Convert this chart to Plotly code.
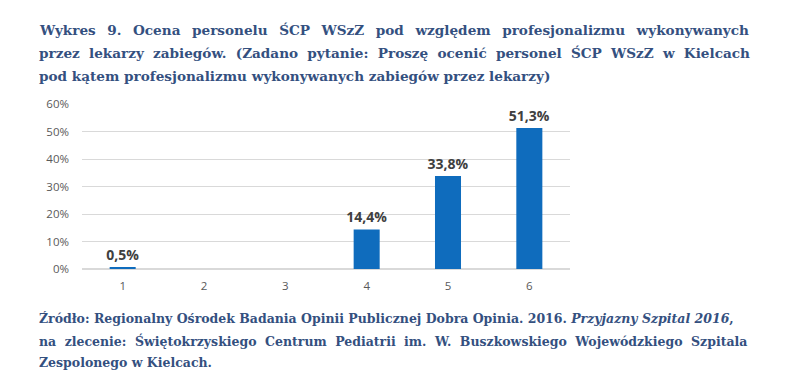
import plotly.graph_objects as go

categories = ["1", "2", "3", "4", "5", "6"]
values = [0.5, 0, 0, 14.4, 33.8, 51.3]
labels = ["0,5%", "", "", "14,4%", "33,8%", "51,3%"]
tick_vals = [0, 10, 20, 30, 40, 50, 60]
tick_text = ["0%", "10%", "20%", "30%", "40%", "50%", "60%"]

title_lines = [
    "Wykres 9. Ocena personelu ŚCP WSzZ pod względem profesjonalizmu wykonywanych",
    "przez lekarzy zabiegów. (Zadano pytanie: Proszę ocenić personel ŚCP WSzZ w Kielcach",
    "pod kątem profesjonalizmu wykonywanych zabiegów przez lekarzy)",
]
footer_lines = [
    "Źródło: Regionalny Ośrodek Badania Opinii Publicznej Dobra Opinia. 2016. <i>Przyjazny Szpital 2016</i>,",
    "na zlecenie: Świętokrzyskiego Centrum Pediatrii im. W. Buszkowskiego Wojewódzkiego Szpitala",
    "Zespolonego w Kielcach.",
]

text_color = "#34507F"
serif = "DejaVu Serif"

# extra space inserted per word gap to mimic justified paragraphs
title_pad = ["\u2002", "\u2004", ""]
footer_pad = ["", "\u2004", ""]


def pad(line, extra):
    return line.replace(" ", " " + extra) if extra else line


# page body has an 8px offset
OFF = 8
L, R, T, B = 82 - OFF, 804 - 570 + OFF, 104 - OFF, 390 - 269 + OFF

fig = go.Figure()
fig.add_trace(go.Bar(
    x=categories, y=values, text=labels,
    textposition="outside", cliponaxis=False, constraintext="none",
    textfont=dict(family="Open Sans", size=14, color="#404040", weight="bold"),
    marker=dict(color="#0F6CBD", line=dict(width=0)),
    hoverinfo="skip",
))

fig.update_layout(
    width=804, height=390,
    margin=dict(l=L, r=R, t=T, b=B),
    paper_bgcolor="white", plot_bgcolor="white",
    bargap=0.68, showlegend=False,
    xaxis=dict(type="category", showgrid=False, showline=False, ticks="",
               ticklabelstandoff=8,
               tickfont=dict(family="Open Sans", size=11.5, color="#595959")),
    yaxis=dict(range=[0, 60], tickvals=tick_vals, ticktext=tick_text,
               showgrid=True, gridcolor="#D9D9D9", gridwidth=1, zeroline=True,
               zerolinecolor="#D9D9D9", ticks="", showline=False,
               ticklabelstandoff=12,
               tickfont=dict(family="Open Sans", size=11.5, color="#595959")),
)

title_y = [30, 53, 76]
for line, extra, y in zip(title_lines, title_pad, title_y):
    fig.add_annotation(text=pad(line, extra), x=37, y=y, xref="paper", yref="paper",
                       xanchor="left", yanchor="middle", showarrow=False,
                       font=dict(family=serif, size=13.6, color=text_color, weight="bold"))
footer_y = [318, 341, 362]
for line, extra, y in zip(footer_lines, footer_pad, footer_y):
    fig.add_annotation(text=pad(line, extra), x=37, y=y, xref="paper", yref="paper",
                       xanchor="left", yanchor="middle", showarrow=False,
                       font=dict(family=serif, size=12.5, color=text_color, weight="bold"))

# convert page pixel coords to paper coords
pw = 804 - L - R
ph = 390 - T - B
for ann in fig.layout.annotations:
    px, py = ann.x - OFF, ann.y - OFF
    ann.x = (px - L) / pw
    ann.y = ((390 - B) - py) / ph

fig.write_html("out.html")
